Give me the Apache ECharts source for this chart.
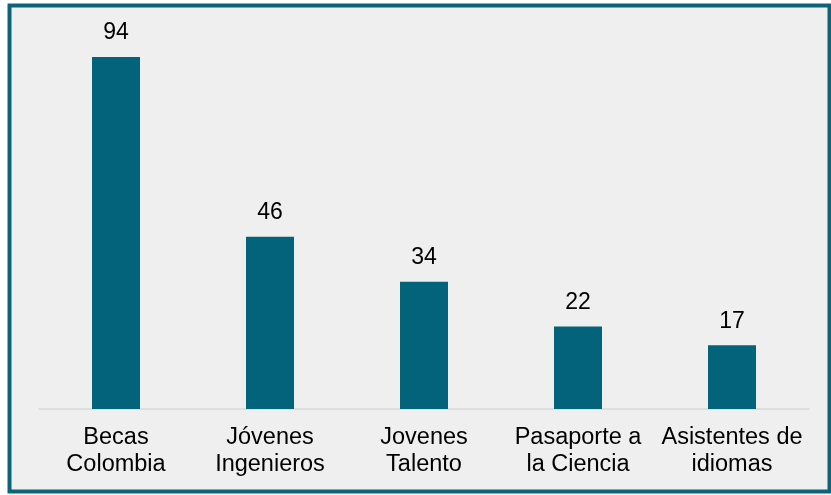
<!DOCTYPE html>
<html><head><meta charset="utf-8">
<script src="https://cdn.jsdelivr.net/npm/echarts@6/dist/echarts.min.js"></script>
<style>html,body{margin:0;padding:0;background:#fff}#c{width:831px;height:495px}</style>
</head><body><div id="c"></div>
<script>
const categories = ['Becas\nColombia', 'Jóvenes\nIngenieros', 'Jovenes\nTalento', 'Pasaporte a\nla Ciencia', 'Asistentes de\nidiomas'];
const values = [94, 46, 34, 22, 17];
const chart = echarts.init(document.getElementById('c'));
chart.setOption({
  backgroundColor: '#ffffff',
  animation: false,
  graphic: [{
    type: 'rect', z: -10, silent: true,
    shape: { x: 9.5, y: 5.5, width: 820, height: 486 },
    style: { fill: '#efefef', stroke: '#0d6479', lineWidth: 4 }
  }],
  grid: { left: 39, right: 22, top: 34.5, bottom: 86 },
  xAxis: {
    type: 'category', data: categories,
    axisLine: { show: true, lineStyle: { color: '#d9d9d9', width: 1.5 } },
    axisTick: { show: false },
    axisLabel: { interval: 0, color: '#000', fontFamily: 'Liberation Sans, Arial', fontSize: 23.5, lineHeight: 27, margin: 15.5 }
  },
  yAxis: { type: 'value', min: 0, max: 100, show: false, splitLine: { show: false } },
  series: [{
    type: 'bar', data: values, barWidth: 48,
    itemStyle: { color: '#03637a' },
    label: { show: true, position: 'top', distance: 12.5, color: '#000', fontFamily: 'Liberation Sans, Arial', fontSize: 23 }
  }]
});
</script></body></html>
